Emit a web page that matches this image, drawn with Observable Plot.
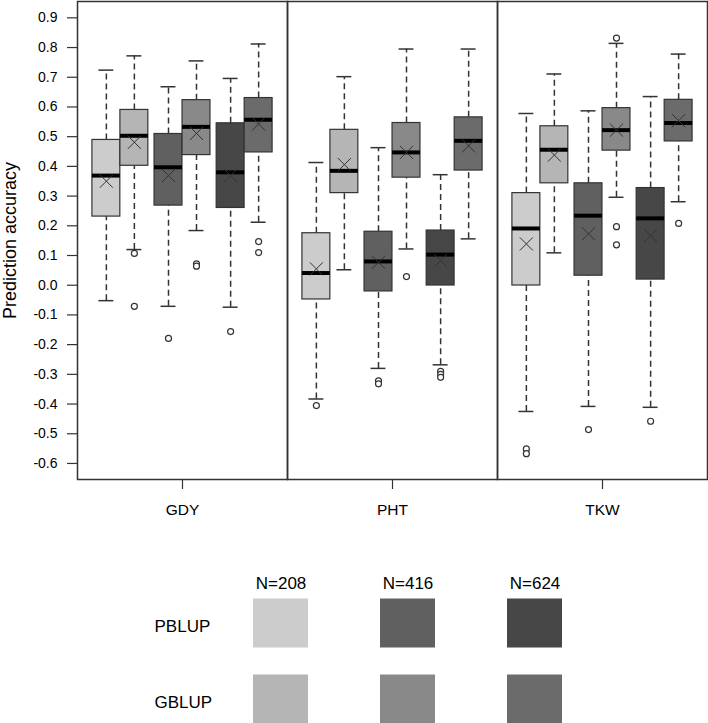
<!DOCTYPE html>
<html><head><meta charset="utf-8">
<script src="https://cdn.jsdelivr.net/npm/d3@7"></script>
<script src="https://cdn.jsdelivr.net/npm/@observablehq/plot@0.6"></script>
<style>html,body{margin:0;padding:0;overflow:hidden;background:#fff}svg{display:block}</style>
</head><body><div id="chart"></div><div id="legend"></div>
<script>
// ---- data ----
const traits = ["GDY", "PHT", "TKW"];
const methods = ["PBLUP", "GBLUP"];
const sizes = ["N=208", "N=416", "N=624"];
// box order within each trait: PBLUP 208, GBLUP 208, PBLUP 416, GBLUP 416, PBLUP 624, GBLUP 624
const whiskerHigh = [
  [0.724, 0.772, 0.668, 0.755, 0.696, 0.812],
  [0.413, 0.702, 0.463, 0.795, 0.372, 0.795],
  [0.578, 0.711, 0.587, 0.814, 0.635, 0.778]
];
const q3 = [
  [0.489, 0.590, 0.509, 0.623, 0.545, 0.630],
  [0.175, 0.523, 0.180, 0.546, 0.184, 0.565],
  [0.310, 0.535, 0.343, 0.596, 0.327, 0.624]
];
const median = [
  [0.369, 0.503, 0.397, 0.533, 0.380, 0.557],
  [0.041, 0.385, 0.080, 0.447, 0.103, 0.486],
  [0.191, 0.456, 0.234, 0.522, 0.225, 0.546]
];
const q1 = [
  [0.231, 0.402, 0.268, 0.438, 0.260, 0.447],
  [-0.048, 0.310, -0.021, 0.362, -0.001, 0.386],
  [-0.001, 0.343, 0.032, 0.453, 0.019, 0.484]
];
const whiskerLow = [
  [-0.052, 0.120, -0.071, 0.184, -0.074, 0.212],
  [-0.383, 0.052, -0.280, 0.122, -0.268, 0.156],
  [-0.425, 0.109, -0.408, 0.296, -0.411, 0.281]
];
const means = [
  [0.350, 0.481, 0.369, 0.511, 0.369, 0.543],
  [0.055, 0.406, 0.077, 0.447, 0.083, 0.469],
  [0.139, 0.438, 0.173, 0.522, 0.167, 0.554]
];
const outliers = [
  [[], [0.107, -0.071], [-0.179], [0.072, 0.064], [-0.156], [0.147, 0.110]],
  [[-0.405], [], [-0.322, -0.332], [0.029], [-0.290, -0.300, -0.310], []],
  [[-0.551, -0.567], [], [-0.486], [0.832, 0.197, 0.136], [-0.458], [0.208]]
];
const yTicks = [-0.6, -0.5, -0.4, -0.3, -0.2, -0.1, 0.0, 0.1, 0.2, 0.3, 0.4, 0.5, 0.6, 0.7, 0.8, 0.9];

// ---- styling ----
const keys = [];
sizes.forEach(s => methods.forEach(m => keys.push(m + " " + s)));
const fills = ["#cccccc", "#b5b5b5", "#606060", "#898989", "#474747", "#6b6b6b"];
const FONT = "'Liberation Sans', Arial, Helvetica, sans-serif";
const DARK = "#333333";

// ---- build tables ----
const rows = [], outRows = [];
traits.forEach((t, ti) => {
  for (let j = 0; j < 6; j++) {
    const method = methods[j % 2], size = sizes[Math.floor(j / 2)];
    const key = method + " " + size;
    rows.push({trait: t, method, size, key,
      lo: whiskerLow[ti][j], q1: q1[ti][j], med: median[ti][j],
      q3: q3[ti][j], hi: whiskerHigh[ti][j], mean: means[ti][j]});
    outliers[ti][j].forEach(v => outRows.push({trait: t, method, size, value: v}));
  }
});

const BW = 56, HALF = BW / 2, OFF = BW / 4;
function boxMarks(method) {
  const left = method === "PBLUP";
  const dx = left ? -OFF : OFF;
  const data = rows.filter(d => d.method === method);
  const odata = outRows.filter(d => d.method === method);
  const halfInset = left ? {insetRight: HALF} : {insetLeft: HALF};
  const capInset = {insetLeft: HALF / 2 - 7.5 + (left ? 0 : HALF), insetRight: HALF / 2 - 7.5 + (left ? HALF : 0)};
  return [
    Plot.ruleX(data, {fx: "trait", x: "size", y1: "q3", y2: "hi", dx, stroke: DARK, strokeWidth: 1.5, strokeDasharray: "6,4"}),
    Plot.ruleX(data, {fx: "trait", x: "size", y1: "lo", y2: "q1", dx, stroke: DARK, strokeWidth: 1.5, strokeDasharray: "6,4"}),
    Plot.tickY(data, {fx: "trait", x: "size", y: "hi", stroke: DARK, strokeWidth: 1.5, ...capInset}),
    Plot.tickY(data, {fx: "trait", x: "size", y: "lo", stroke: DARK, strokeWidth: 1.5, ...capInset}),
    Plot.barY(data, {fx: "trait", x: "size", y1: "q1", y2: "q3", fill: "key", stroke: DARK, strokeWidth: 1.2, ...halfInset}),
    Plot.tickY(data, {fx: "trait", x: "size", y: "med", stroke: "#000", strokeWidth: 4, ...halfInset}),
    Plot.dot(data, {fx: "trait", x: "size", y: "mean", dx, symbol: "times", r: 6, stroke: DARK, strokeWidth: 1}),
    Plot.dot(odata, {fx: "trait", x: "size", y: "value", dx, r: 3, stroke: DARK, fill: "white", strokeWidth: 1.2})
  ];
}

const chart = Plot.plot({
  width: 708, height: 540,
  marginLeft: 76, marginRight: 1, marginTop: 1, marginBottom: 61,
  style: {fontFamily: FONT, fontSize: "14px", color: "#000", background: "white"},
  fx: {domain: traits, padding: 0, label: null},
  x: {domain: sizes, paddingInner: 0.1, paddingOuter: 0.24, round: false, axis: null},
  y: {domain: [-0.654, 0.955]},
  color: {domain: keys, range: fills},
  marks: [
    Plot.axisY({ticks: yTicks, tickFormat: d => d.toFixed(1), tickSize: 10, tickPadding: 10, fontSize: 14, stroke: DARK, strokeWidth: 1.2, label: null}),
    Plot.axisY({ticks: [], tickSize: 0, label: "Prediction accuracy", labelAnchor: "center", labelArrow: "none", labelOffset: 74, fontSize: 18}),
    Plot.axisFx({anchor: "bottom", tickSize: 10, tickPadding: 14, fontSize: 15.5, stroke: DARK, strokeWidth: 1.2, label: null}),
    ...boxMarks("PBLUP"),
    ...boxMarks("GBLUP"),
    Plot.frame({stroke: DARK, strokeWidth: 1.5})
  ]
});
document.getElementById("chart").appendChild(chart);

const legendRows = [];
sizes.forEach(s => methods.forEach(m => legendRows.push({size: s, method: m, key: m + " " + s})));
const legend = Plot.plot({
  width: 708, height: 183, margin: 0,
  style: {fontFamily: FONT, fontSize: "17px", color: "#000", background: "white"},
  x: {domain: sizes, range: [216, 598.5], padding: 0, axis: null},
  y: {domain: methods, range: [44.5, 196.5], padding: 0, axis: null},
  color: {domain: keys, range: fills},
  marks: [
    Plot.cell(legendRows, {x: "size", y: "method", fill: "key", insetLeft: 36, insetRight: 36, insetTop: 13.5, insetBottom: 13.5}),
    Plot.text(sizes, {x: d => d, frameAnchor: "top", dy: 36, fontSize: 17}),
    Plot.text(methods, {y: d => d, frameAnchor: "left", dx: 154, dy: 3, textAnchor: "start", fontSize: 17})
  ]
});
document.getElementById("legend").appendChild(legend);
</script></body></html>
